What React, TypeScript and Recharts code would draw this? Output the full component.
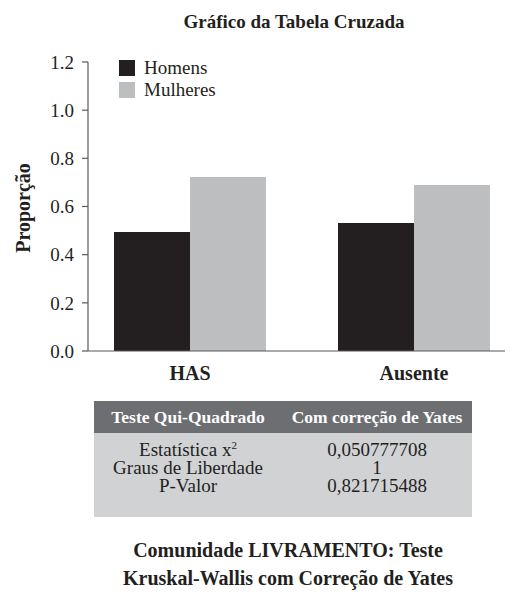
import React from "react";
import { BarChart, Bar, XAxis, YAxis } from "recharts";

const categories = ["HAS", "Ausente"];
const homens = [0.494, 0.531];
const mulheres = [0.722, 0.689];
const yTicks = [0, 0.2, 0.4, 0.6, 0.8, 1.0, 1.2];

const seriesInfo = [
  { key: "homens", name: "Homens", color: "#231f20" },
  { key: "mulheres", name: "Mulheres", color: "#bcbec0" },
];

const tableHeader = ["Teste Qui-Quadrado", "Com correção de Yates"];
const tableLabels = ["Estatística x", "Graus de Liberdade", "P-Valor"];
const tableValues = ["0,050777708", "1", "0,821715488"];

const data = categories.map(function (c, i) {
  return { name: c, homens: homens[i], mulheres: mulheres[i] };
});

const FONT = "'Liberation Serif', 'DejaVu Serif', serif";
const INK = "#231f20";

function LegendBox() {
  return (
    <div style={{ fontFamily: FONT, fontSize: 19, color: INK, lineHeight: "22px" }}>
      {seriesInfo.map(function (s) {
        return (
          <div key={s.key} style={{ display: "flex", alignItems: "center", height: 22 }}>
            <span style={{ width: 16, height: 16, background: s.color, display: "inline-block", marginRight: 9 }} />
            {s.name}
          </div>
        );
      })}
    </div>
  );
}

export default function App() {
  return (
    <div style={{ position: "relative", width: 513, height: 599, margin: "-8px 0 0 -8px", overflow: "hidden", background: "#fff", fontFamily: FONT, color: INK }}>
      <div style={{ position: "absolute", top: 11, left: 0, width: 588, textAlign: "center", fontWeight: "bold", fontSize: 19 }}>
        Gráfico da Tabela Cruzada
      </div>
      <div style={{ position: "absolute", top: 0, left: 0 }}>
        <BarChart width={526} height={400} data={data} margin={{ top: 62, right: 0, bottom: 19, left: 0 }} barGap={0} barSize={76} style={{ fontFamily: FONT }}>
          <XAxis
            dataKey="name"
            padding={{ left: -10, right: 0 }}
            tickLine={false}
            tickSize={0}
            tickMargin={15}
            height={30}
            axisLine={{ stroke: "#58595b", strokeWidth: 1.2 }}
            tick={{ fill: INK, fontSize: 20, fontWeight: "bold", fontFamily: FONT }}
          />
          <YAxis
            domain={[0, 1.2]}
            ticks={yTicks}
            width={88}
            tickSize={6}
            tickMargin={8}
            tickFormatter={function (v: number) { return v.toFixed(1); }}
            axisLine={{ stroke: "#58595b", strokeWidth: 1.2 }}
            tickLine={{ stroke: "#58595b", strokeWidth: 1.2 }}
            tick={{ fill: INK, fontSize: 19, fontFamily: FONT }}
            label={{
              content: function (props: any) {
                const vb = props.viewBox || { x: 0, y: 62, width: 88, height: 289 };
                const cx = vb.x + 23;
                const cy = 208;
                return (
                  <text x={cx} y={cy} transform={"rotate(-90 " + cx + " " + cy + ")"} textAnchor="middle" dominantBaseline="central" fill={INK} fontSize={20} fontWeight="bold" fontFamily={FONT}>
                    Proporção
                  </text>
                );
              },
            }}
          />
          {seriesInfo.map(function (s) {
            return <Bar key={s.key} dataKey={s.key} name={s.name} fill={s.color} isAnimationActive={false} />;
          })}
        </BarChart>
      </div>
      <div style={{ position: "absolute", left: 119, top: 57 }}>
        <LegendBox />
      </div>
      <div style={{ position: "absolute", left: 94, top: 401, width: 378 }}>
        <div style={{ display: "flex", background: "#6d6e71", color: "#fff", fontWeight: "bold", fontSize: 17.5, height: 32, alignItems: "center" }}>
          <div style={{ width: 188, textAlign: "center" }}>{tableHeader[0]}</div>
          <div style={{ width: 190, textAlign: "center" }}>{tableHeader[1]}</div>
        </div>
        <div style={{ background: "#d1d2d4", fontSize: 19, height: 84, paddingTop: 8, boxSizing: "border-box", lineHeight: "18px" }}>
          {tableLabels.map(function (l, i) {
            return (
              <div key={l} style={{ display: "flex", height: 18 }}>
                <div style={{ width: 188, textAlign: "center" }}>
                  {l}
                  {i === 0 ? <span style={{ fontSize: 11, position: "relative", top: -7 }}>2</span> : null}
                </div>
                <div style={{ width: 190, textAlign: "center" }}>{tableValues[i]}</div>
              </div>
            );
          })}
        </div>
      </div>
      <div style={{ position: "absolute", left: 0, top: 536, width: 576, textAlign: "center", fontWeight: "bold", fontSize: 20, lineHeight: "28px" }}>
        Comunidade LIVRAMENTO: Teste
        <br />
        Kruskal-Wallis com Correção de Yates
      </div>
    </div>
  );
}
